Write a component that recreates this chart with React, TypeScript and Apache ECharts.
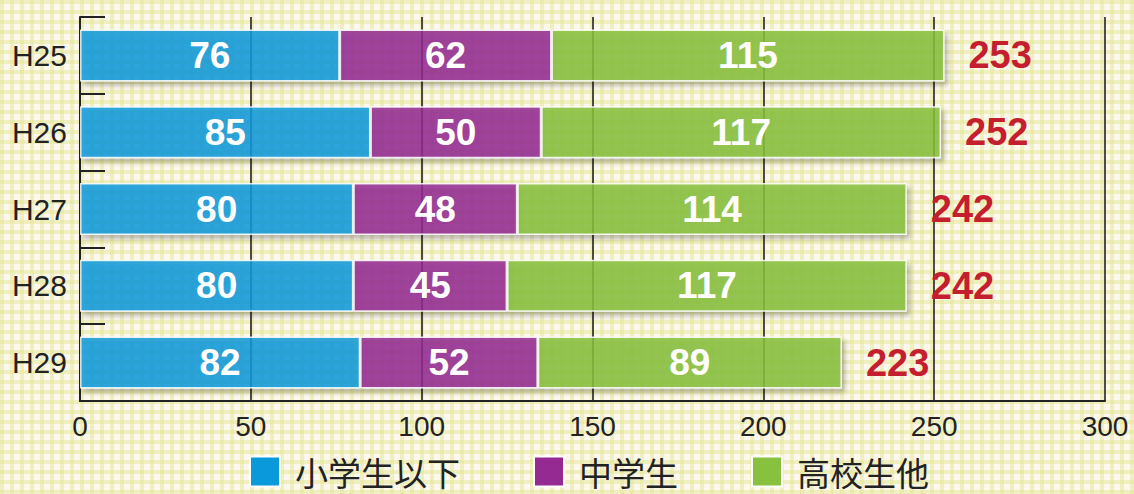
import React, { useEffect, useRef } from "react";
import * as echarts from "echarts";

const categories = ["H25", "H26", "H27", "H28", "H29"];
const elementary = [76, 85, 80, 80, 82];
const juniorHigh = [62, 50, 48, 45, 52];
const highSchool = [115, 117, 114, 117, 89];
const totals = [253, 252, 242, 242, 223];
const seriesNames = ["小学生以下", "中学生", "高校生他"];
const xTicks = [0, 50, 100, 150, 200, 250, 300];

const colors = ["#0a9adc", "#942a92", "#87c13d"];

export default function App() {
  const ref = useRef<HTMLDivElement>(null);
  useEffect(() => {
    if (!ref.current) return;
    const chart = echarts.init(ref.current, null, { renderer: "svg" });
    const segStyle = (c: string) => ({
      color: c,
      opacity: 0.84,
      borderColor: "#ffffff",
      borderWidth: 1.5,
      shadowBlur: 5,
      shadowOffsetX: 3,
      shadowOffsetY: 4,
      shadowColor: "rgba(0,0,0,0.3)",
    });
    const innerLabel = {
      show: true,
      position: "inside" as const,
      color: "#ffffff",
      opacity: 1,
      fontSize: 37,
      fontWeight: "bold" as const,
      fontFamily: "Liberation Sans, Arial, sans-serif",
    };
    const dataSets = [elementary, juniorHigh, highSchool];
    const series: any[] = dataSets.map((d, i) => ({
      name: seriesNames[i],
      type: "bar",
      stack: "total",
      barWidth: 52,
      data: d,
      itemStyle: segStyle(colors[i]),
      label: innerLabel,
    }));
    series.push({
      name: "合計",
      type: "bar",
      barWidth: 52,
      barGap: "-100%",
      data: totals,
      itemStyle: { color: "rgba(0,0,0,0)" },
      silent: true,
      z: 1,
      label: {
        show: true,
        position: "right",
        distance: 24,
        color: "#c41e2f",
        fontSize: 38,
        fontWeight: "bold",
        fontFamily: "Liberation Sans, Arial, sans-serif",
      },
    });
    chart.setOption({
      animation: false,
      grid: { left: 80, right: 29, top: 17, bottom: 93, containLabel: false },
      legend: {
        data: seriesNames.map((n) => ({ name: n, itemStyle: { opacity: 1 } })),
        left: 249,
        top: 455,
        padding: 0,
        itemWidth: 30,
        itemHeight: 30,
        itemGap: 73,
        icon: "rect",
        textStyle: {
          fontSize: 33,
          lineHeight: 33,
          color: "#222",
          fontFamily: "Noto Sans CJK JP, sans-serif",
          padding: [0, 0, 0, 10],
        },
      },
      xAxis: {
        type: "value",
        min: xTicks[0],
        max: xTicks[xTicks.length - 1],
        interval: 50,
        z: 1,
        axisLine: { show: true, lineStyle: { color: "#222", width: 2 } },
        axisTick: { show: false },
        axisLabel: {
          fontSize: 28,
          color: "#222",
          margin: 11,
          fontFamily: "Liberation Sans, Arial, sans-serif",
        },
        splitLine: { show: true, lineStyle: { color: "#222", width: 1.6 } },
      },
      yAxis: {
        type: "category",
        data: categories,
        inverse: true,
        axisLine: { show: true, lineStyle: { color: "#222", width: 2 } },
        axisTick: { show: true, inside: true, length: 25, lineStyle: { color: "#222", width: 2 } },
        axisLabel: {
          fontSize: 30,
          color: "#222",
          margin: 13,
          fontFamily: "Liberation Sans, Arial, sans-serif",
        },
      },
      series,
    });
    return () => chart.dispose();
  }, []);

  const bg =
    "repeating-linear-gradient(90deg, rgba(226,228,140,0.45) 0px, rgba(226,228,140,0.45) 4px, rgba(0,0,0,0) 4px, rgba(0,0,0,0) 10px)," +
    "repeating-linear-gradient(0deg, rgba(226,228,140,0.45) 0px, rgba(226,228,140,0.45) 4px, rgba(0,0,0,0) 4px, rgba(0,0,0,0) 10px)," +
    "#fcf8ee";

  return (
    <div
      ref={ref}
      style={{
        position: "absolute",
        left: 0,
        top: 0,
        width: 1134,
        height: 494,
        background: bg,
      }}
    />
  );
}
